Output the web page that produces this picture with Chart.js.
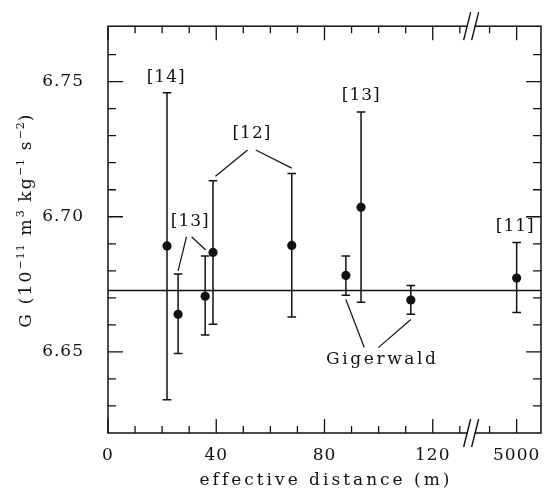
<!DOCTYPE html>
<html>
<head>
<meta charset="utf-8">
<script src="https://cdn.jsdelivr.net/npm/chart.js@4.4.1/dist/chart.umd.min.js"></script>
<style>
html,body{margin:0;padding:0;background:#fff;}
canvas{display:block;}
</style>
</head>
<body>
<canvas id="c" width="546" height="488"></canvas>
<script>
// ---- data ----
const distances = [21.8, 25.9, 35.9, 38.8, 67.9, 87.9, 93.5, 111.9, 151];
const gValues   = [6.6892, 6.6639, 6.6706, 6.6868, 6.6894, 6.6783, 6.7035, 6.6692, 6.6773];
const errUpper  = [6.7459, 6.6788, 6.6855, 6.7133, 6.7160, 6.6855, 6.7388, 6.6746, 6.6905];
const errLower  = [6.6323, 6.6494, 6.6563, 6.6602, 6.6629, 6.6710, 6.6684, 6.6639, 6.6646];
const gReference = 6.6727;

const xTickValues = [0, 40, 80, 120, 151];
const xTickLabels = ['0', '40', '80', '120', '5000'];
const xMinorTicks = [10, 20, 30, 50, 60, 70, 90, 100, 110, 130, 141];
const xBreak = 134;
const yTickValues = [6.65, 6.70, 6.75];
const yMinorTicks = [6.63, 6.64, 6.66, 6.67, 6.68, 6.69, 6.71, 6.72, 6.73, 6.74, 6.76];

const refLabels = [
  {text: '[14]', x: 21.3, y: 6.7514},
  {text: '[13]', x: 30.2, y: 6.6981},
  {text: '[12]', x: 53.0, y: 6.7306},
  {text: '[13]', x: 93.4, y: 6.7447},
  {text: '[11]', x: 150.3, y: 6.6963},
  {text: 'Gigerwald', x: 100.9, y: 6.6473}
];
const leaderLines = [
  [29.0, 6.6926, 25.9, 6.6800],
  [30.9, 6.6926, 36.1, 6.6877],
  [51.6, 6.7247, 39.7, 6.7150],
  [54.6, 6.7247, 67.9, 6.7180],
  [87.9, 6.6694, 94.7, 6.6516],
  [99.9, 6.6516, 111.9, 6.6620]
];

const FONT = "'DejaVu Serif', 'Liberation Serif', serif";
const INK = '#111';

const deco = {
  id: 'deco',
  beforeDraw(chart) {
    chart.ctx.letterSpacing = '1px';
  },
  beforeDatasetsDraw(chart) {
    const {ctx, chartArea: a, scales: {x, y}} = chart;
    ctx.save();
    ctx.strokeStyle = INK;
    ctx.lineWidth = 1.5;
    ctx.lineCap = 'butt';
    // error bars
    for (let i = 0; i < distances.length; i++) {
      const px = x.getPixelForValue(distances[i]);
      const pt = y.getPixelForValue(errUpper[i]);
      const pb = y.getPixelForValue(errLower[i]);
      ctx.beginPath();
      ctx.moveTo(px, pt); ctx.lineTo(px, pb);
      ctx.moveTo(px - 4.3, pt); ctx.lineTo(px + 4.3, pt);
      ctx.moveTo(px - 4.3, pb); ctx.lineTo(px + 4.3, pb);
      ctx.stroke();
    }
    // leader lines
    ctx.lineWidth = 1.2;
    for (const L of leaderLines) {
      ctx.beginPath();
      ctx.moveTo(x.getPixelForValue(L[0]), y.getPixelForValue(L[1]));
      ctx.lineTo(x.getPixelForValue(L[2]), y.getPixelForValue(L[3]));
      ctx.stroke();
    }
    ctx.restore();
  },
  afterDraw(chart) {
    const {ctx, chartArea: a, scales: {x, y}} = chart;
    ctx.save();
    ctx.strokeStyle = INK;
    ctx.fillStyle = INK;
    ctx.lineWidth = 1.5;
    // frame
    ctx.strokeRect(a.left, a.top, a.right - a.left, a.bottom - a.top);
    // ticks
    ctx.lineWidth = 1.3;
    const xt = (v, len) => {
      const px = x.getPixelForValue(v);
      ctx.beginPath();
      ctx.moveTo(px, a.bottom); ctx.lineTo(px, a.bottom - len);
      ctx.moveTo(px, a.top); ctx.lineTo(px, a.top + len);
      ctx.stroke();
    };
    const yt = (v, len) => {
      const py = y.getPixelForValue(v);
      ctx.beginPath();
      ctx.moveTo(a.left, py); ctx.lineTo(a.left + len, py);
      ctx.moveTo(a.right, py); ctx.lineTo(a.right - len, py);
      ctx.stroke();
    };
    xTickValues.forEach(v => xt(v, 14));
    xMinorTicks.forEach(v => xt(v, 7));
    yTickValues.forEach(v => yt(v, 15));
    yMinorTicks.forEach(v => yt(v, 8));
    // axis break marks
    const bx = x.getPixelForValue(xBreak);
    [a.top, a.bottom].forEach(by => {
      ctx.fillStyle = '#fff';
      ctx.fillRect(bx - 3, by - 2, 7, 4);
      ctx.strokeStyle = INK;
      ctx.lineWidth = 1.4;
      ctx.beginPath();
      ctx.moveTo(bx - 7, by + 14); ctx.lineTo(bx, by - 14);
      ctx.moveTo(bx + 1, by + 14); ctx.lineTo(bx + 8, by - 14);
      ctx.stroke();
    });
    ctx.fillStyle = INK;
    // reference labels
    ctx.textAlign = 'center';
    ctx.textBaseline = 'middle';
    for (const L of refLabels) {
      const word = /[a-z]/i.test(L.text);
      ctx.letterSpacing = word ? '2.6px' : '1px';
      ctx.font = '17px ' + FONT;
      ctx.fillText(L.text, x.getPixelForValue(L.x) + (word ? 1.3 : 0.5), y.getPixelForValue(L.y));
    }
    // x axis title
    ctx.letterSpacing = '3px';
    ctx.font = '17px ' + FONT;
    ctx.textBaseline = 'alphabetic';
    ctx.fillText('effective distance (m)', (a.left + a.right) / 2 + 1.5, 485);
    // y axis title with superscripts
    const parts = [['G (10', 0], ['\u221211', 1], [' m', 0], ['3', 1], [' kg', 0], ['\u22121', 1], [' s', 0], ['\u22122', 1], [')', 0]];
    const mainF = '17px ' + FONT, supF = '11px ' + FONT;
    let total = 0;
    const widths = parts.map(p => {
      ctx.letterSpacing = p[1] ? '1px' : '2.2px';
      ctx.font = p[1] ? supF : mainF;
      const w = ctx.measureText(p[0]).width;
      total += w;
      return w;
    });
    ctx.translate(31, 220);
    ctx.rotate(-Math.PI / 2);
    ctx.textAlign = 'left';
    let cx = -total / 2;
    parts.forEach((p, i) => {
      ctx.letterSpacing = p[1] ? '1px' : '2.2px';
      ctx.font = p[1] ? supF : mainF;
      ctx.fillText(p[0], cx, p[1] ? -7 : 0);
      cx += widths[i];
    });
    ctx.restore();
  }
};

new Chart(document.getElementById('c'), {
  type: 'scatter',
  data: {
    datasets: [
      {
        type: 'line',
        data: [{x: 0, y: gReference}, {x: 160, y: gReference}],
        borderColor: INK,
        borderWidth: 1.5,
        pointRadius: 0,
        order: 2
      },
      {
        data: distances.map((d, i) => ({x: d, y: gValues[i]})),
        backgroundColor: INK,
        borderColor: INK,
        pointRadius: 4.6,
        pointBorderWidth: 0,
        order: 1
      }
    ]
  },
  options: {
    responsive: false,
    animation: false,
    devicePixelRatio: 1,
    layout: {padding: {left: 0, right: 5, top: 24, bottom: 0}},
    plugins: {legend: {display: false}, tooltip: {enabled: false}},
    scales: {
      x: {
        type: 'linear', min: 0, max: 160,
        grid: {display: false}, border: {display: false},
        afterBuildTicks: s => { s.ticks = xTickValues.map(v => ({value: v})); },
        afterFit: s => { s.height = 55; },
        ticks: {
          autoSkip: false, maxRotation: 0, padding: 4, color: INK,
          font: {family: FONT, size: 17},
          callback: v => xTickLabels[xTickValues.indexOf(v)]
        }
      },
      y: {
        type: 'linear', min: 6.62, max: 6.7705,
        grid: {display: false}, border: {display: false},
        afterBuildTicks: s => { s.ticks = yTickValues.map(v => ({value: v})); },
        afterFit: s => { s.width = 108; },
        ticks: {
          padding: 16, color: INK,
          font: {family: FONT, size: 17},
          callback: v => v.toFixed(2)
        }
      }
    }
  },
  plugins: [deco]
});
</script>
</body>
</html>
